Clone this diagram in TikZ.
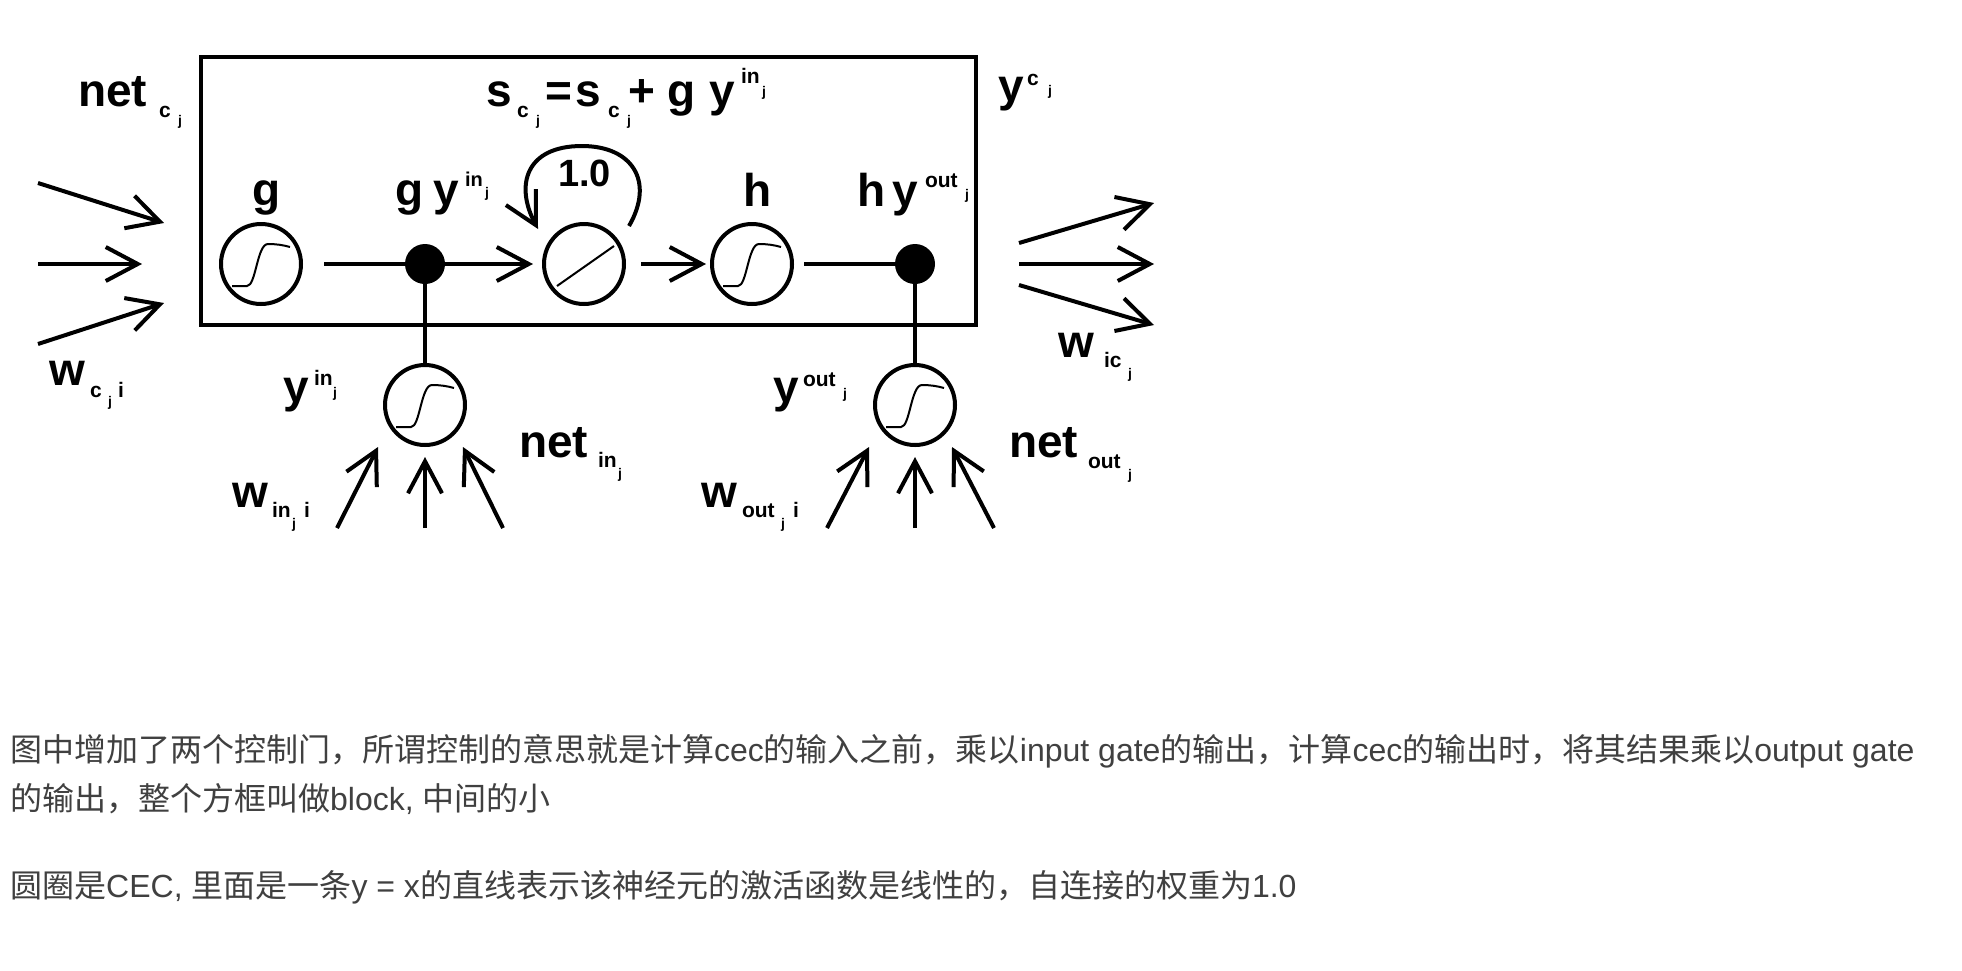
\documentclass[tikz,border=0pt]{standalone}
\usepackage{fontspec}
\setmainfont{Liberation Sans}
\newfontfamily\cjk{Noto Sans CJK SC}
\usetikzlibrary{arrows.meta}
\definecolor{txtgray}{HTML}{404040}
\newcommand\pc[4]{\makebox[0pt][l]{\hspace*{#1pt}\raisebox{#2pt}{\fontsize{#3}{#3}\selectfont\bfseries #4}}}
\begin{document}
\begin{tikzpicture}[x=1pt,y=-1pt,
  lab/.style={anchor=base west, inner sep=0pt, outer sep=0pt, font=\fontsize{46}{46}\selectfont\bfseries},
  unit/.style={circle, draw, line width=4pt, minimum size=80pt, inner sep=0pt, outer sep=0pt},
  dotn/.style={circle, fill, inner sep=0pt, minimum size=40pt, outer sep=0pt},
  blockbox/.style={draw, line width=4pt, minimum width=775pt, minimum height=268pt, inner sep=0pt},
  conn/.style={line width=4pt},
  arr/.style={line width=4pt, -{Straight Barb[length=32pt,width=34pt]}},
  curve/.style={line width=2pt},
  txt/.style={anchor=base west, inner sep=0pt, text=txtgray, font=\fontsize{32}{32}\selectfont},
  sig/.pic={\draw[curve] (-29,22) -- (-14,22) .. controls (-5,22) and (-4,-20) .. (7,-20) .. controls (15,-20) and (22,-19) .. (29,-17);}
]
\fill[white] (0,0) rectangle (1962,970);
\useasboundingbox (0,0) rectangle (1962,970);

% block
\node[blockbox] (block) at (588.5,191) {};

% units
\node[unit] (g) at (261,264) {};
\node[dotn] (dot1) at (425,264) {};
\node[unit] (cec) at (584,264) {};
\node[unit] (h) at (752,264) {};
\node[dotn] (dot2) at (915,264) {};
\node[unit] (gin) at (425,405) {};
\node[unit] (gout) at (915,405) {};
\pic at (g) {sig};
\pic at (h) {sig};
\pic at (gin) {sig};
\pic at (gout) {sig};
\draw[curve] ([shift={(-27,22)}]cec.center) -- ([shift={(30,-18)}]cec.center);

% internal connectors
\draw[conn, shorten <=23pt] (g) -- (dot1);
\draw[arr, shorten >=11pt] (dot1) -- (cec);
\draw[arr, shorten <=17pt, shorten >=6pt] (cec) -- (h);
\draw[conn, shorten <=12pt] (h) -- (dot2);
\draw[conn] (dot1) -- (gin);
\draw[conn] (dot2) -- (gout);
\draw[arr] ([shift={(45,-38)}]cec.center) .. controls +(26,-45) and +(50,0) .. ([shift={(-2,-118)}]cec.center) .. controls +(-57,0) and +(-23,-43) .. ([shift={(-46,-35)}]cec.center);

% input arrows to the block
\coordinate (ia1) at (38,183); \coordinate (ib1) at (164,223);
\coordinate (ia2) at (38,264); \coordinate (ib2) at (142,264);
\coordinate (ia3) at (38,344); \coordinate (ib3) at (164,303);
\draw[arr] (ia1) -- (ib1);
\draw[arr] (ia2) -- (ib2);
\draw[arr] (ia3) -- (ib3);

% output arrows
\coordinate (oa1) at (1019,243); \coordinate (ob1) at (1154,203);
\coordinate (oa2) at (1019,264); \coordinate (ob2) at (1154,264);
\coordinate (oa3) at (1019,285); \coordinate (ob3) at (1154,325);
\draw[arr] (oa1) -- (ob1);
\draw[arr] (oa2) -- (ob2);
\draw[arr] (oa3) -- (ob3);

% input gate arrows
\coordinate (pa1) at (337,528); \coordinate (pb1) at (378,447);
\coordinate (pa2) at (425,528); \coordinate (pb2) at (425,457);
\coordinate (pa3) at (503,528); \coordinate (pb3) at (463,447);
\draw[arr] (pa1) -- (pb1);
\draw[arr] (pa2) -- (pb2);
\draw[arr] (pa3) -- (pb3);

% output gate arrows
\coordinate (qa1) at (827,528); \coordinate (qb1) at (869,447);
\coordinate (qa2) at (915,528); \coordinate (qb2) at (915,457);
\coordinate (qa3) at (994,528); \coordinate (qb3) at (952,447);
\draw[arr] (qa1) -- (qb1);
\draw[arr] (qa2) -- (qb2);
\draw[arr] (qa3) -- (qb3);

% labels
\node[lab] (lnetc) at (78,106) {\pc{0}{0}{46}{net}\pc{81}{-11}{21}{c}\pc{100}{-19}{14}{j}\hspace*{108pt}};
\node[lab] (leq) at (486,106) {\pc{0}{0}{46}{s}\pc{31}{-11}{21}{c}\pc{50}{-19}{14}{j}\pc{59}{0}{46}{=}\pc{90}{0}{46}{s}\pc{122}{-11}{21}{c}\pc{141}{-19}{14}{j}\pc{142}{0}{46}{+}\pc{182}{0}{46}{g}\pc{224}{0}{46}{y}\pc{255}{23}{21}{in}\pc{276}{10}{14}{j}\hspace*{284pt}};
\node[lab] (lyc) at (998,101) {\pc{0}{0}{46}{y}\pc{29}{16}{21}{c}\pc{50}{6}{14}{j}\hspace*{56pt}};
\node[lab] (lg) at (252,205) {g};
\node[lab] (lgy) at (395,205) {\pc{0}{0}{46}{g}\pc{38}{0}{46}{y}\pc{70}{19}{20}{in}\pc{90}{8}{14}{j}\hspace*{98pt}};
\node[lab, font=\fontsize{38}{38}\selectfont\bfseries] (lone) at (558,186) {1.0};
\node[lab] (lh) at (743,206) {h};
\node[lab] (lhy) at (857,206) {\pc{0}{0}{46}{h}\pc{36}{0}{46}{y}\pc{68}{19}{21}{out}\pc{108}{7}{14}{j}\hspace*{114pt}};
\node[lab] (lwc) at (49,385) {\pc{0}{0}{46}{w}\pc{41}{-12}{21}{c}\pc{59}{-21}{14}{j}\pc{69}{-12}{21}{i}\hspace*{76pt}};
\node[lab] (lyin) at (283,402) {\pc{0}{0}{46}{y}\pc{31}{17}{21}{in}\pc{50}{5}{14}{j}\hspace*{56pt}};
\node[lab] (lnetin) at (519,457) {\pc{0}{0}{46}{net}\pc{79}{-10}{21}{in}\pc{99}{-21}{14}{j}\hspace*{104pt}};
\node[lab] (lwin) at (232,507) {\pc{0}{0}{46}{w}\pc{40}{-10}{21}{in}\pc{60}{-21}{14}{j}\pc{72}{-10}{21}{i}\hspace*{78pt}};
\node[lab] (lyout) at (773,402) {\pc{0}{0}{46}{y}\pc{30}{16}{21}{out}\pc{70}{4}{14}{j}\hspace*{76pt}};
\node[lab] (lnetout) at (1009,457) {\pc{0}{0}{46}{net}\pc{79}{-11}{21}{out}\pc{119}{-22}{14}{j}\hspace*{126pt}};
\node[lab] (lwout) at (701,507) {\pc{0}{0}{46}{w}\pc{41}{-10}{21}{out}\pc{80}{-21}{14}{j}\pc{92}{-10}{21}{i}\hspace*{98pt}};
\node[lab] (lwic) at (1058,357) {\pc{0}{0}{46}{w}\pc{46}{-10}{21}{ic}\pc{70}{-21}{14}{j}\hspace*{76pt}};

% caption text
\node[txt] (t1) at (10,761) {{\cjk 图中增加了两个控制门，所谓控制的意思就是计算}cec{\cjk 的输入之前，乘以}input gate{\cjk 的输出，计算}cec{\cjk 的输出时，将其结果乘以}output gate};
\node[txt] (t2) at (10,810) {{\cjk 的输出，整个方框叫做}block, {\cjk 中间的小}};
\node[txt] (t3) at (10,897) {{\cjk 圆圈是}CEC, {\cjk 里面是一条}y = x{\cjk 的直线表示该神经元的激活函数是线性的，自连接的权重为}1.0};
\end{tikzpicture}
\end{document}
